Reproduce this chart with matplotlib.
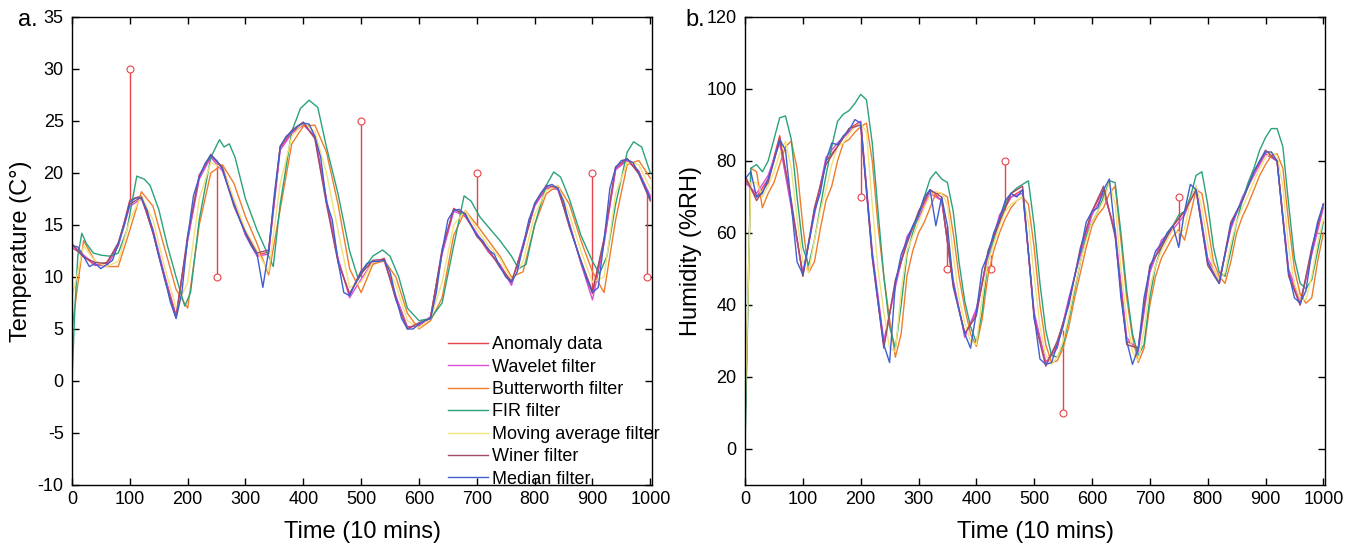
import numpy as np
import matplotlib.pyplot as plt

plt.rcParams['font.family'] = ['Liberation Sans', 'DejaVu Sans']
plt.rcParams['axes.unicode_minus'] = False

# sample grids (time axis, 10 mins units)
t10 = np.arange(0, 1001, 10)
t20 = np.arange(0, 1001, 20)

# ---------------- a. temperature ----------------
temp_median = [13.0, 12.9, 12.0, 11.0, 11.3, 10.8, 11.2, 11.6, 13.2, 14.9,
               17.2, 17.6, 17.6, 16.4, 14.4, 12.0, 10.0, 7.6, 6.0, 8.5,
               13.8, 17.8, 19.6, 20.9, 21.7, 21.2, 20.4, 18.6, 17.0, 15.5,
               14.2, 13.0, 12.2, 9.0, 12.5, 18.0, 22.5, 23.5, 24.0, 24.5,
               24.8, 24.7, 23.5, 21.5, 17.2, 15.5, 11.5, 8.5, 8.2, 9.4,
               10.5, 11.3, 11.5, 11.5, 11.6, 10.5, 8.0, 6.0, 5.0, 5.0,
               5.5, 5.8, 6.0, 8.5, 12.5, 15.5, 16.4, 16.5, 16.0, 15.0,
               14.0, 13.5, 12.6, 12.2, 11.0, 10.0, 9.5, 10.5, 13.0, 15.5,
               17.0, 18.0, 18.7, 18.9, 18.5, 17.3, 15.0, 13.2, 11.5, 9.8,
               8.5, 9.0, 13.5, 18.5, 20.5, 21.2, 21.3, 21.0, 20.0, 18.8,
               17.5]
temp_raw = [13.2, 12.0, 11.1, 11.4, 13.0, 17.4, 17.8, 14.2, 10.1, 6.3,
            13.6, 19.8, 21.6, 20.6, 17.3, 14.1, 12.1, 12.4, 22.4, 23.9,
            24.7, 23.4, 17.3, 11.6, 8.3, 10.6, 11.3, 11.8, 8.1, 5.2,
            5.3, 6.2, 12.4, 16.6, 15.8, 14.1, 12.4, 11.2, 9.4, 13.1,
            16.9, 18.5, 18.6, 15.1, 11.4, 8.4, 13.4, 20.4, 21.3, 20.2,
            17.6]
temp_wavelet = [12.8, 12.1, 11.2, 11.0, 13.0, 16.8, 17.5, 14.6, 10.2, 6.2,
                13.5, 19.4, 21.5, 20.2, 17.2, 14.0, 12.0, 12.2, 22.2, 23.8,
                24.6, 23.6, 17.5, 11.8, 8.0, 9.8, 11.4, 11.5, 8.2, 5.1,
                5.4, 6.1, 12.2, 16.3, 15.9, 14.2, 12.5, 11.1, 9.2, 13.2,
                16.8, 18.6, 18.4, 15.2, 11.3, 7.8, 13.2, 20.3, 21.2, 20.1,
                17.8]
temp_winer = [13.1, 11.9, 11.4, 11.3, 13.3, 17.0, 17.7, 14.3, 9.8, 6.1,
              14.0, 19.7, 21.8, 20.5, 16.8, 14.3, 12.3, 12.6, 22.6, 24.1,
              24.9, 23.3, 17.0, 11.4, 8.4, 10.3, 11.6, 11.7, 7.8, 5.0,
              5.6, 6.0, 12.7, 16.5, 16.1, 13.9, 12.7, 10.9, 9.6, 12.8,
              17.1, 18.8, 18.6, 14.8, 11.6, 8.6, 13.7, 20.6, 21.4, 19.9,
              17.3]
temp_butter = [5.0, 13.5, 11.5, 11.0, 11.0, 14.5, 18.2, 16.8, 12.8, 8.8,
               7.0, 15.0, 20.0, 20.8, 19.0, 15.8, 13.2, 10.2, 16.5, 22.8,
               24.5, 24.6, 22.0, 17.0, 10.8, 8.5, 11.2, 11.6, 10.0, 6.5,
               5.0, 5.8, 8.0, 14.0, 16.4, 15.0, 13.5, 12.0, 10.0, 10.5,
               15.0, 18.0, 18.8, 17.0, 13.5, 10.5, 8.5, 15.5, 20.8, 21.2,
               19.5]
temp_movavg = [8.0, 13.0, 11.5, 11.0, 11.5, 15.5, 17.8, 15.5, 11.0, 7.0,
               9.5, 17.5, 21.0, 20.5, 17.5, 14.5, 12.5, 10.5, 19.0, 23.5,
               24.8, 24.0, 20.0, 14.5, 9.0, 9.5, 11.4, 11.6, 9.2, 5.8,
               5.1, 6.0, 9.5, 15.0, 16.4, 14.6, 13.0, 11.8, 9.7, 11.5,
               16.0, 18.3, 18.8, 16.0, 12.5, 9.5, 10.0, 18.0, 21.0, 20.8,
               18.5]
temp_fir_t = [0, 5, 10, 17, 25, 37, 50, 65, 80, 95,
              112, 125, 135, 150, 165, 180, 195, 205, 220, 240,
              255, 263, 272, 282, 300, 320, 340, 348, 360, 380,
              395, 410, 425, 440, 460, 480, 495, 510, 520, 537,
              550, 565, 580, 600, 620, 640, 660, 678, 690, 705,
              720, 740, 760, 772, 785, 800, 820, 833, 845, 860,
              880, 900, 912, 925, 940, 960, 971, 985, 1000]
temp_fir = [0.0, 7.0, 12.0, 14.2, 13.2, 12.3, 12.1, 12.0, 12.3, 14.5,
            19.7, 19.4, 18.8, 16.5, 13.0, 10.0, 7.2, 8.5, 15.5, 21.5,
            23.2, 22.5, 22.8, 21.5, 17.5, 14.5, 12.0, 11.0, 17.0, 24.0,
            26.2, 27.0, 26.3, 22.5, 18.0, 12.5, 9.8, 11.2, 12.0, 12.6,
            12.0, 10.0, 7.0, 5.8, 6.0, 7.5, 13.0, 17.8, 17.3, 15.8,
            14.8, 13.5, 12.0, 10.8, 11.2, 15.0, 18.8, 20.1, 19.6, 17.5,
            14.0, 11.5, 10.3, 12.0, 17.0, 22.0, 23.0, 22.5, 20.0]
temp_anom_t = [100, 250, 500, 700, 900, 995]
temp_anom_base = [17.5, 21.0, 10.0, 15.0, 8.5, 18.5]
temp_anom_val = [30, 10, 25, 20, 20, 10]

# ---------------- b. humidity ----------------
hum_median = [75, 77, 70, 71, 75, 80, 86, 83, 68, 52,
              48.5, 57, 66, 71, 80, 85, 84.5, 87, 88.5, 91.5,
              90.5, 72, 54, 41, 29, 24, 46, 54, 58, 62,
              65, 70, 72, 62, 70, 62, 46, 38.6, 32, 28,
              38, 50, 54, 60, 64, 69, 71, 70, 72, 55,
              37, 25, 23.5, 24, 29, 34, 41, 48, 55, 63,
              66, 67, 72, 75, 60, 42, 30, 23.5, 28, 42,
              50, 55, 57, 60, 62, 56, 66, 73.5, 72, 62,
              52, 48.5, 46, 54, 62, 66, 69, 73, 77, 80,
              82.5, 82.5, 80, 64, 49, 42, 40.5, 44, 55, 63,
              68]
hum_raw = [75, 70, 75, 87, 68, 48, 66, 80, 84, 89,
           91, 54, 29, 46, 58, 65, 72, 69, 46, 32,
           38, 54, 64, 70, 72, 37, 24, 29, 41, 55,
           66, 72, 60, 30, 28, 50, 57, 62, 66, 72,
           52, 46, 62, 69, 77, 82, 80, 49, 40, 55,
           68]
hum_wavelet = [74, 71, 76, 85, 67, 49, 65, 81, 85, 88,
               91, 55, 30, 45, 59, 64, 71, 69, 47, 31,
               39, 53, 65, 70, 71, 38, 24, 28, 42, 54,
               65, 71, 61, 31, 27, 49, 58, 61, 65, 73,
               53, 47, 61, 70, 76, 82, 80, 50, 41, 54,
               67]
hum_winer = [76, 69, 74, 86, 69, 48, 67, 79, 84, 89,
             90, 53, 28, 47, 57, 66, 72, 70, 45, 32,
             37, 55, 63, 71, 73, 36, 23, 30, 40, 56,
             66, 73, 59, 29, 28, 51, 56, 62, 66, 72,
             51, 46, 63, 69, 77, 83, 80, 48, 40, 56,
             68]
hum_butter = [5, 78, 77, 67, 71, 74, 79, 84, 85.5, 78,
              62, 49, 52, 61, 69, 73, 80, 85, 86, 88,
              89.5, 90.5, 80, 62, 48, 36, 25.5, 32, 48, 55,
              60, 63, 67, 71, 71, 70, 60, 48, 39, 32,
              28.5, 36, 48, 55, 60, 64, 67, 69, 70, 68,
              56, 40, 29, 24, 24.5, 28, 34, 42, 49, 56,
              62, 65, 67, 71, 73, 58, 42, 31, 24, 28,
              40, 48, 53, 56, 59, 61, 58, 65, 72, 71,
              62, 52, 48, 46, 52, 60, 64.5, 68, 72, 76,
              79, 81.5, 82, 78, 63, 50, 43, 40.5, 42, 52,
              60]
hum_movavg = [10, 74, 74, 70, 73, 77, 82, 85.5, 78, 64,
              52, 49, 58, 66, 72, 79, 84, 85, 87.5, 89.5,
              90.5, 88, 68, 50, 38, 28, 27, 44, 55, 59,
              63, 67, 70.5, 71.5, 71, 68, 54, 42, 35, 30,
              29, 42, 52, 57, 62, 66, 68, 69, 70, 63,
              48, 34, 26, 23.5, 25.5, 30, 37, 45, 52, 58,
              63, 66, 69, 74, 68, 50, 36, 27, 24.5, 33,
              45, 51, 55, 58, 61, 60, 61, 69, 73, 67,
              57, 50, 47, 49, 57, 63, 67, 70.5, 74.5, 78,
              81, 82.5, 81.5, 73, 56, 46, 41.5, 41.5, 48, 57,
              64]
hum_fir = [0, 78, 79, 77, 80, 86, 92, 92.5, 86, 70,
           56, 51, 58, 67, 76, 84, 91, 93, 94, 96,
           98.5, 97, 85, 66, 48, 34, 28, 40, 54, 60,
           65, 70, 75, 77, 75, 74, 66, 52, 41, 34,
           29.5, 38, 52, 58, 63, 68, 71, 72.5, 73.5, 74.5,
           62, 46, 33, 26, 25.5, 29, 36, 44, 52, 59,
           63, 66, 70, 74.5, 74, 60, 44, 32, 26, 29,
           42, 51, 56, 60, 62, 65, 66, 70, 76, 77,
           68, 56, 49, 48, 55, 63, 69, 74, 78, 83,
           86.5, 89, 89, 84, 68, 53, 46, 44.5, 47, 55,
           63]
hum_anom_t = [200, 350, 425, 450, 550, 750]
hum_anom_base = [90, 62, 54, 66, 33, 57]
hum_anom_val = [70, 50, 50, 80, 10, 70]

labels = ['Anomaly data', 'Wavelet filter', 'Butterworth filter', 'FIR filter',
          'Moving average filter', 'Winer filter', 'Median filter']
colors = ['#e8424a', '#d94fd9', '#ef7d2a', '#2aa27a', '#f2e27c', '#a34a66', '#3f5fcf']


def draw(ax, raw, anom_t, anom_base, anom_val, wavelet, butter, fir_t, fir,
         movavg, winer, median):
    lw = 1.0
    ax.plot(t20, raw, color=colors[0], lw=lw, label=labels[0])
    ax.vlines(anom_t, anom_base, anom_val, color=colors[0], lw=lw)
    ax.plot(anom_t, anom_val, 'o', ms=5, mfc='white', mec=colors[0], mew=0.8)
    ax.plot(t20, wavelet, color=colors[1], lw=lw, label=labels[1])
    ax.plot(t10 if len(butter) == 101 else t20, butter, color=colors[2], lw=lw, label=labels[2])
    ax.plot(fir_t, fir, color=colors[3], lw=lw, label=labels[3])
    ax.plot(t10 if len(movavg) == 101 else t20, movavg, color=colors[4], lw=lw, label=labels[4])
    ax.plot(t20, winer, color=colors[5], lw=lw, label=labels[5])
    ax.plot(t10, median, color=colors[6], lw=lw, label=labels[6])
    ax.set_xlim(0, 1003)
    ax.set_xticks(range(0, 1001, 100))
    ax.tick_params(direction='in', top=True, right=True, length=5, width=1,
                   labelsize=13, colors='black')
    ax.tick_params(axis='y', pad=6)
    ax.tick_params(axis='x', pad=4)
    for s in ax.spines.values():
        s.set_linewidth(1.0)
    ax.set_xlabel('Time (10 mins)', fontsize=17)
    ax.xaxis.set_label_coords(0.5, -0.077)


fig = plt.figure(figsize=(13.61, 5.53), dpi=100)
axL = fig.add_axes([0.0529, 0.123, 0.4262, 0.8463])
axR = fig.add_axes([0.5474, 0.123, 0.4262, 0.8463])

draw(axL, temp_raw, temp_anom_t, temp_anom_base, temp_anom_val, temp_wavelet,
     temp_butter, temp_fir_t, temp_fir, temp_movavg, temp_winer, temp_median)
axL.set_ylim(-10, 35)
axL.set_yticks(range(-10, 36, 5))
axL.set_ylabel('Temperature (C°)', fontsize=17)
axL.yaxis.set_label_coords(-0.069, 0.5)
axL.legend(loc='upper left', bbox_to_anchor=(0.648, 0.318), frameon=False,
           fontsize=13, handlelength=2.2, handletextpad=0.25, labelspacing=0.3,
           borderaxespad=0, borderpad=0)

draw(axR, hum_raw, hum_anom_t, hum_anom_base, hum_anom_val, hum_wavelet,
     hum_butter, t10, hum_fir, hum_movavg, hum_winer, hum_median)
axR.set_ylim(-10, 120)
axR.set_yticks(range(0, 121, 20))
axR.set_ylabel('Humidity (%RH)', fontsize=17)
axR.yaxis.set_label_coords(-0.074, 0.5)

fig.text(18 / 1361, 1 - 20 / 553, 'a.', fontsize=17, va='center', ha='left')
fig.text(685 / 1361, 1 - 20 / 553, 'b.', fontsize=17, va='center', ha='left')

fig.savefig('out.png', dpi=100)
